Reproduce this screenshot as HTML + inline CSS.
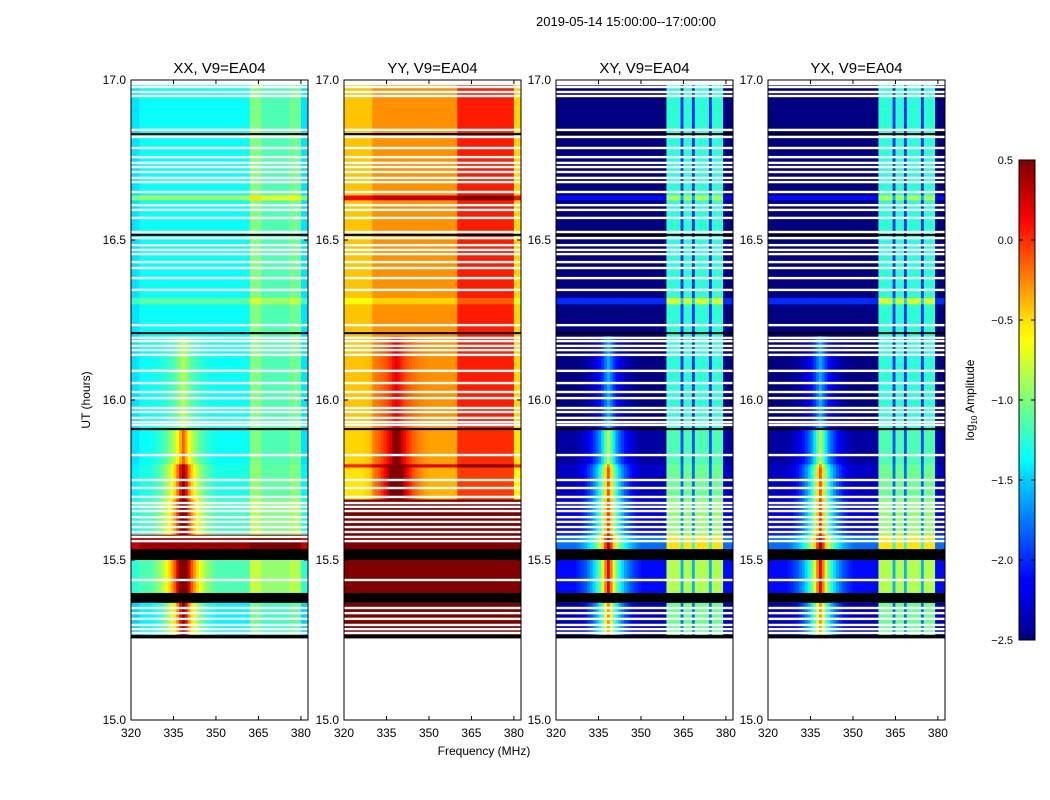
<!DOCTYPE html>
<html><head><meta charset="utf-8"><style>
body{margin:0;background:#fff;}
svg{display:block;font-family:"Liberation Sans",sans-serif;}
</style></head><body>
<svg id="fig" width="1050" height="800" viewBox="0 0 1050 800">
<defs>
<linearGradient id="jet" x1="0" y1="1" x2="0" y2="0">
<stop offset="0" stop-color="#00007f"/><stop offset="0.11" stop-color="#0000ff"/><stop offset="0.125" stop-color="#0000ff"/>
<stop offset="0.34" stop-color="#00d4ff"/><stop offset="0.375" stop-color="#00ffff"/><stop offset="0.5" stop-color="#7dff7a"/>
<stop offset="0.625" stop-color="#ffff00"/><stop offset="0.66" stop-color="#ffe600"/><stop offset="0.875" stop-color="#ff0000"/><stop offset="1" stop-color="#7f0000"/>
</linearGradient>
</defs>
<text x="626" y="26" text-anchor="middle" font-size="13">2019-05-14  15:00:00--17:00:00</text>
<g id="panels"></g>
<text x="484" y="755" text-anchor="middle" font-size="12">Frequency (MHz)</text>
<text transform="translate(90,400) rotate(-90)" text-anchor="middle" font-size="12">UT (hours)</text>
<g id="cbar"></g>
<text transform="translate(974,400) rotate(-90)" text-anchor="middle" font-size="12">log<tspan font-size="8" dy="3">10</tspan><tspan dy="-3"> Amplitude</tspan></text>
</svg>
<script>
const panelTitles = ["XX, V9=EA04","YY, V9=EA04","XY, V9=EA04","YX, V9=EA04"];
const xTicks = [320,335,350,365,380];
const yTicks = [15.0,15.5,16.0,16.5,17.0];
const cbarTicks = [0.5,0.0,-0.5,-1.0,-1.5,-2.0,-2.5];
const segStart = [15.266,15.397,15.534,15.58,15.69,15.79,15.80,15.91,16.2,16.30,16.32,16.625,16.64];
const segEnd   = [15.366,15.5,15.58,15.69,15.79,15.80,15.91,16.2,16.30,16.32,16.625,16.64,16.99];
const baseXX = [-1.4,-1.15,0.4,-1.2,-1.3,-1.3,-1.35,-1.35,-1.35,-1.1,-1.35,-0.9,-1.35];
const baseYY = [0.8,0.8,0.8,0.8,-0.4,0.2,-0.35,-0.3,-0.3,-0.5,-0.3,0.3,-0.3];
const baseXY = [-2.3,-2.1,-1.8,-2.2,-2.3,-2.3,-2.4,-2.5,-2.5,-2.0,-2.5,-2.1,-2.5];
const baseYX = [-2.3,-2.1,-1.8,-2.2,-2.3,-2.3,-2.4,-2.5,-2.5,-2.0,-2.5,-2.1,-2.5];
const spikeXX = [1.9,2.3,0,2.0,1.8,1.8,1.2,0.5,0,0,0,0,0];
const spikeYY = [0,0,0,0,1.5,0.5,1.0,0.5,0,0,0,0,0];
const spikeXY = [2.0,2.3,2.2,2.2,2.2,2.0,1.6,0.9,0,0,0,0,0];
const spikeYX = [2.0,2.3,2.2,2.2,2.2,2.0,1.6,0.9,0,0,0,0,0];
const spikeProfile = [1,0.8,0.6,0.45,0.35,0.27,0.2,0.15,0.1,0.07,0.04,0.02,0];
const spikeFreq = 338.5;
const colFreqs = [];
for (let f=320; f<382.5; f+=1) colFreqs.push(f);
// column offsets per panel: [fStart, fEnd, offset]
const colOffXX = [[320,323,-0.1],[362,366,0.35],[366,376,0.2],[376,380,0.3],[380,382.5,-0.1]];
const colOffYY = [[320,330,-0.15],[360,380,0.35],[380,382.5,-0.2]];
const colOffXY = [[359,364,1.25],[364,365,0.5],[365,368,1.25],[368,369,0.5],[369,374,1.25],[374,375,0.5],[375,379,1.25]];
const colOffYX = colOffXY;
const flagTimes = [16.9875,16.978,16.9625,16.95,16.844,16.822,16.7875,16.759,16.741,16.728,16.7125,16.694,16.681,16.65,16.609,16.594,16.569,16.525,16.506,16.484,16.469,16.456,16.431,16.4125,16.381,16.344,16.234,16.194,16.184,16.169,16.156,16.141,16.091,16.053,16.025,16.006,15.975,15.9625,15.944,15.931,15.922,15.828,15.75,15.725,15.697,15.678,15.666,15.653,15.634,15.619,15.603,15.5875,15.572,15.559,15.4375,15.35,15.334,15.316,15.297,15.284,15.272];
const blackLines = [16.831,16.516,16.209,15.909];
const blackBandStart = [15.5,15.366,15.255];
const blackBandEnd = [15.534,15.397,15.266];

const lefts=[131,344,556,768], PW=177, TOP=80, BOT=720;
const bases=[baseXX,baseYY,baseXY,baseYX], spikes=[spikeXX,spikeYY,spikeXY,spikeYX], offs=[colOffXX,colOffYY,colOffXY,colOffYX];
function xs(p,f){return lefts[p]+(f-320)/62.5*PW;}
function ys(t){return TOP+(17-t)*320;}
function cl(v){return Math.max(0,Math.min(1,v));}
function jet(v){const n=cl((v+2.5)/3);const r=cl(1.5-Math.abs(4*n-3)),g=cl(1.5-Math.abs(4*n-2)),b=cl(1.5-Math.abs(4*n-1));
return `rgb(${Math.round(r*255)},${Math.round(g*255)},${Math.round(b*255)})`;}
const NS="http://www.w3.org/2000/svg";
function mk(tag,attrs,parent){const e=document.createElementNS(NS,tag);for(const k in attrs)e.setAttribute(k,attrs[k]);parent.appendChild(e);return e;}
const root=document.getElementById('panels');
for(let p=0;p<4;p++){
  const g=mk('g',{},root);
  
  
  for(let s=0;s<segStart.length;s++){
    const y0=ys(segEnd[s]), y1=ys(segStart[s]);
    for(let c=0;c<colFreqs.length;c++){
      const f=colFreqs[c], f2=Math.min(f+1,382.5), fc=(f+f2)/2;
      let v=bases[p][s];
      for(const o of offs[p]) if(fc>=o[0]&&fc<o[1]) v+=o[2];
      const d=Math.round(Math.abs(fc-spikeFreq));
      if(d<spikeProfile.length) v+=spikes[p][s]*spikeProfile[d];
      const r=mk('rect',{x:xs(p,f).toFixed(2),y:y0.toFixed(2),width:(xs(p,f2)-xs(p,f)+0.4).toFixed(2),height:(y1-y0+0.3).toFixed(2),fill:jet(v)},g);
      
      
    }
  }
  for(const t of flagTimes){
    const r=mk('rect',{x:lefts[p],y:(ys(t)-1.2).toFixed(2),width:PW,height:2.4,fill:'#fff'},g);
    
    
  }
  for(const t of blackLines){
    const r=mk('rect',{x:lefts[p],y:(ys(t)-1).toFixed(2),width:PW,height:2,fill:'#000'},g);
    
    
  }
  for(let b=0;b<blackBandStart.length;b++){
    const r=mk('rect',{x:lefts[p],y:ys(blackBandEnd[b]).toFixed(2),width:PW,height:(ys(blackBandStart[b])-ys(blackBandEnd[b])).toFixed(2),fill:'#000'},g);
    
    
  }
  const fr=mk('rect',{x:lefts[p],y:TOP,width:PW,height:BOT-TOP,fill:'none',stroke:'#000','stroke-width':1},g);
  
  
  const tt=mk('text',{x:lefts[p]+PW/2,y:73,'text-anchor':'middle','font-size':15},g);
  tt.textContent=panelTitles[p];
  
  
  for(const f of xTicks){
    const x=xs(p,f);
    mk('line',{x1:x,x2:x,y1:BOT,y2:BOT-4,stroke:'#000'},g);
    mk('line',{x1:x,x2:x,y1:TOP,y2:TOP+4,stroke:'#000'},g);
    const t=mk('text',{x:x,y:BOT+17,'text-anchor':'middle','font-size':12},g);
    t.textContent=String(f);
    
    
  }
  for(const v of yTicks){
    const y=ys(v);
    mk('line',{x1:lefts[p],x2:lefts[p]+4,y1:y,y2:y,stroke:'#000'},g);
    mk('line',{x1:lefts[p]+PW,x2:lefts[p]+PW-4,y1:y,y2:y,stroke:'#000'},g);
    const t=mk('text',{x:lefts[p]-5,y:y+4,'text-anchor':'end','font-size':12},g);
    t.textContent=v.toFixed(1);
    
    
  }
}
const cb=document.getElementById('cbar');
const cbx=1019,cbw=16,cbt=160,cbb=640;
const bar=mk('rect',{x:cbx,y:cbt,width:cbw,height:cbb-cbt,fill:'url(#jet)',stroke:'#000','stroke-width':1},cb);


for(const v of cbarTicks){
  const y=cbt+(0.5-v)/3*(cbb-cbt);
  mk('line',{x1:cbx,x2:cbx+4,y1:y,y2:y,stroke:'#000'},cb);
  mk('line',{x1:cbx+cbw,x2:cbx+cbw-4,y1:y,y2:y,stroke:'#000'},cb);
  const t=mk('text',{x:1013,y:y+4,'text-anchor':'end','font-size':11},cb);
  t.textContent=(v<0?'\u2212':'')+Math.abs(v).toFixed(1);
  
  
}
</script>
</body></html>
